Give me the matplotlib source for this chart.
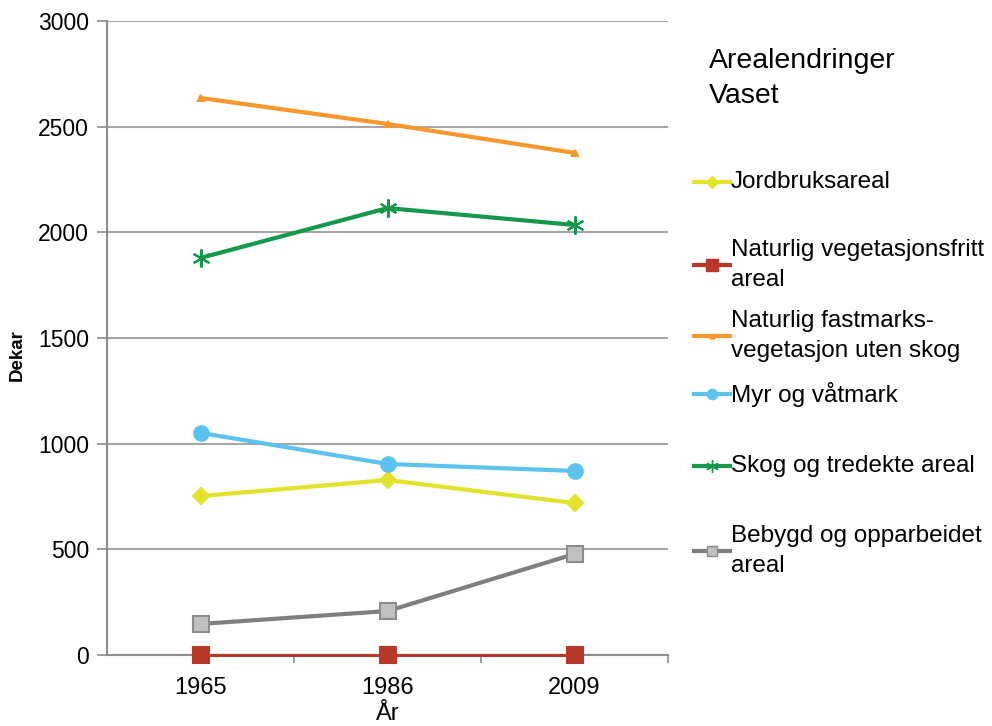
import matplotlib.pyplot as plt
from matplotlib.lines import Line2D

plt.rcParams['font.family'] = ['Liberation Sans', 'DejaVu Sans']

years = ['1965', '1986', '2009']
series_names = [
    'Jordbruksareal',
    'Naturlig vegetasjonsfritt\nareal',
    'Naturlig fastmarks-\nvegetasjon uten skog',
    'Myr og våtmark',
    'Skog og tredekte areal',
    'Bebygd og opparbeidet\nareal',
]
jordbruk = [752, 828, 719]
vegfritt = [0, 0, 0]
fastmark = [2636, 2513, 2376]
myr = [1051, 904, 871]
skog = [1879, 2115, 2035]
bebygd = [147, 208, 478]

# style per series: colour, marker, size, face, edge, line width
styles = [
    ('#e3e32c', 'D', 8.5, '#e3e32c', '#e3e32c', 3),
    ('#b8392a', 's', 11.5, '#b8392a', '#b8392a', 2.2),
    ('#f7982e', '^', 5, '#f7982e', '#f7982e', 3),
    ('#5cc2ee', 'o', 10.5, '#5cc2ee', '#5cc2ee', 3),
    ('#16984a', (6, 2, 0), 13, '#16984a', '#16984a', 3),
    ('#7f7f7f', 's', 11, '#c0c0c0', '#8c8c8c', 3),
]
data = [jordbruk, vegfritt, fastmark, myr, skog, bebygd]

fig = plt.figure(figsize=(9.92, 7.26), dpi=100)
ax = fig.add_axes([0.1079, 0.0978, 0.5655, 0.8732])

x = list(range(len(years)))
for vals, (col, mk, ms, fc, ec, lw) in zip(data, styles):
    ax.plot(x, vals, color=col, lw=lw, marker=mk, markersize=ms,
            markerfacecolor=fc, markeredgecolor=ec, markeredgewidth=1.5,
            zorder=3, clip_on=False)

ax.set_xlim(-0.5, 2.5)
ax.set_ylim(0, 3000)
ax.set_yticks(range(0, 3001, 500))
ax.yaxis.grid(True, color='#a6a6a6', lw=1.5)
ax.set_axisbelow(True)
ax.set_xticks(x)
ax.set_xticklabels(years)
ax.set_xticks([0.5, 1.5, 2.5], minor=True)
ax.tick_params(axis='x', which='major', length=0, labelsize=17, pad=16)
ax.tick_params(axis='x', which='minor', length=6, color='#8c8c8c', width=1.2)
ax.tick_params(axis='y', length=7, color='#8c8c8c', width=1.2, labelsize=16.5, pad=6)
for s in ['top', 'right']:
    ax.spines[s].set_visible(False)
for s in ['left', 'bottom']:
    ax.spines[s].set_color('#8c8c8c')
    ax.spines[s].set_linewidth(1.5)

ax.set_xlabel('År', fontsize=17, labelpad=3)
ax.set_ylabel('Dekar', fontsize=13.5, fontweight='bold')
ax.yaxis.set_label_coords(-0.145, 0.473)

# legend drawn by hand to follow the original spacing
W, H = 992, 726
fig.text(709 / W, 1 - 48 / H, 'Arealendringer\nVaset', fontsize=20.5,
         va='top', ha='left', linespacing=1.45)
entry_y = [182, 265, 336, 394, 466, 551]
for name, (col, mk, ms, fc, ec, lw), yy in zip(series_names, styles, entry_y):
    fy = 1 - yy / H
    fig.add_artist(Line2D([694 / W, 730 / W], [fy, fy], color=col, lw=3,
                          transform=fig.transFigure))
    fig.add_artist(Line2D([712 / W], [fy], marker=mk, markersize=ms * 0.7,
                          markerfacecolor=fc, markeredgecolor=ec, color=col,
                          transform=fig.transFigure))
    fig.text(731 / W, fy, name, fontsize=17.5, va='center', ha='left',
             linespacing=1.45)

fig.savefig('out.png', dpi=100)
